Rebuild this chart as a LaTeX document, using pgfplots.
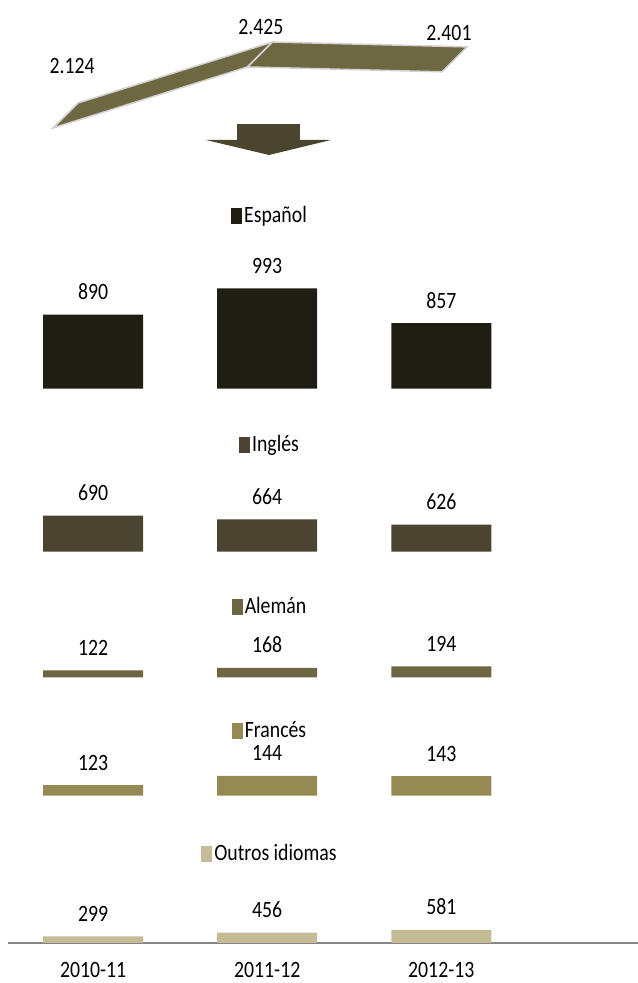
\documentclass[border=0pt]{standalone}
\usepackage{fontspec}
\setmainfont{Carlito}[FakeStretch=0.845]
\usepackage{pgfplots}
\pgfplotsset{compat=1.18}
\definecolor{cEsp}{HTML}{201E13}
\definecolor{cIng}{HTML}{4A4430}
\definecolor{cAle}{HTML}{6E6642}
\definecolor{cFra}{HTML}{958A54}
\definecolor{cOut}{HTML}{C5BB97}
\definecolor{cRib}{HTML}{6E6842}
\definecolor{cArr}{HTML}{4B452F}
\pgfplotsset{
  panel/.style={
    scale only axis, width=630bp, anchor=south west,
    xmin=-0.489, xmax=3.13, hide y axis,
    ybar, bar width=100bp,
    point meta=explicit symbolic,
    nodes near coords,
    every node near coord/.append style={anchor=base, inner sep=0pt, yshift=15bp, text=black},
    legend image code/.code={\fill[##1] (0bp,-8bp) rectangle (11bp,8bp);},
    legend style={draw=none, fill=none, anchor=center, inner sep=0pt,
      nodes={inner xsep=2bp, inner ysep=0pt}},
  }
}
\begin{document}
\fontsize{23.5}{28}\selectfont
\begin{tikzpicture}[font=\fontsize{23.5}{28}\selectfont]
\path[use as bounding box] (0,0) rectangle (638bp,983bp);

% top ribbon (totals)
\begin{axis}[scale only axis, at={(53bp,829.9bp)}, anchor=south west,
  width=389bp, height=141.9bp, xmin=0, xmax=2, ymin=2000, ymax=2700,
  axis lines=none, clip=false]
\addplot[fill=cRib, draw=white!82!black, line width=1.5bp] coordinates
  {(0,2124) (1,2425) (1.1285,2548) (0.1285,2247)} -- cycle;
\addplot[fill=cRib, draw=white!82!black, line width=1.5bp] coordinates
  {(1,2425) (2,2401) (2.1285,2524) (1.1285,2548)} -- cycle;
\node at (axis cs:0.098,2430) {2.124};
\node at (axis cs:1.069,2622) {2.425};
\node at (axis cs:2.036,2593) {2.401};
\end{axis}

% arrow
\fill[cArr] (237bp,859bp) rectangle (300bp,843bp);
\fill[cArr] (206bp,843bp) -- (331bp,843bp) -- (269bp,828bp) -- cycle;

% Español
\begin{axis}[panel, hide x axis, at={(8bp,594.3bp)}, height=180bp, ymin=600, ymax=1305.9,
  legend style={at={(0.4159,0.9572)}}]
\addplot[fill=cEsp, draw=none] coordinates {(0,890) [890] (1,993) [993] (2,857) [857]};
\addlegendentry{Español}
\end{axis}

% Inglés
\begin{axis}[panel, hide x axis, at={(8bp,431.3bp)}, height=112bp, ymin=434, ymax=1230.6,
  legend style={at={(0.4159,0.9527)}}]
\addplot[fill=cIng, draw=none] coordinates {(0,690) [690] (1,664) [664] (2,626) [626]};
\addlegendentry{Inglés}
\end{axis}

% Alemán
\begin{axis}[panel, hide x axis, at={(8bp,305.7bp)}, height=76bp, ymin=0, ymax=1357.1,
  legend style={at={(0.4159,0.929)}}]
\addplot[fill=cAle, draw=none] coordinates {(0,122) [122] (1,168) [168] (2,194) [194]};
\addlegendentry{Alemán}
\end{axis}

% Francés
\begin{axis}[panel, hide x axis, at={(8bp,187.3bp)}, height=70bp, ymin=99, ymax=257,
  legend style={at={(0.4159,0.924)}}]
\addplot[fill=cFra, draw=none] coordinates {(0,123) [123] (1,144) [144] (2,143) [143]};
\addlegendentry{Francés}
\end{axis}

% Outros idiomas
\begin{axis}[panel, at={(8bp,40bp)}, height=95bp, ymin=0, ymax=4222.2,
  legend style={at={(0.4159,0.934)}},
  axis x line*=bottom, x axis line style={-, draw=black!48, line width=1.5bp},
  xtick={0,1,2}, xticklabels={2010-11,2011-12,2012-13}, major tick length=0pt,
  xticklabel style={anchor=base, inner sep=0pt, yshift=-35bp}]
\addplot[fill=cOut, draw=none] coordinates {(0,299) [299] (1,456) [456] (2,581) [581]};
\addlegendentry{Outros idiomas}
\end{axis}
\end{tikzpicture}
\end{document}
